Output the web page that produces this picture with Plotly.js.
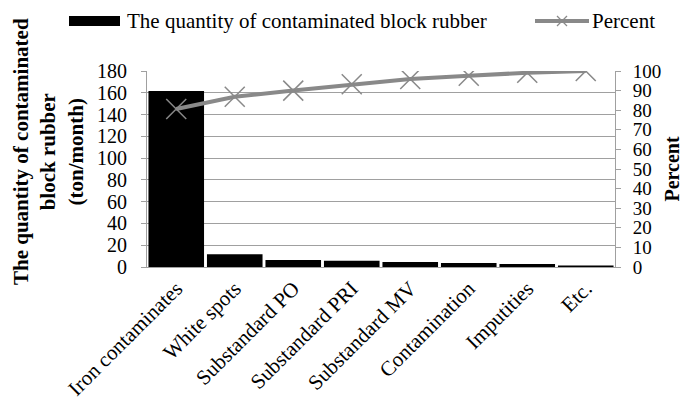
<!DOCTYPE html>
<html>
<head>
<meta charset="utf-8">
<script src="https://cdn.plot.ly/plotly-3.0.1.min.js"></script>
<style>html,body{margin:0;padding:0;background:#fff;}#chart{width:694px;height:401px;}</style>
</head>
<body>
<div id="chart"></div>
<script>
const categories = ["Iron contaminates", "White spots", "Substandard PO", "Substandard PRI", "Substandard MV", "Contamination", "Imputities", "Etc."];
const quantity = [161.6, 11.6, 6.4, 5.8, 4.6, 3.7, 2.8, 1.3];
const percent = [80.6, 86.9, 90.0, 93.2, 95.9, 97.6, 99.1, 100];
const seriesNames = ["The quantity of contaminated block rubber", "Percent"];
const yTitle = "<b>The quantity of contaminated<br>block rubber<br>(ton/month)</b>";
const y2Title = "<b>Percent</b>";

const FONT = "Liberation Serif, Times New Roman, serif";
const AXC = "#a0a0a0";
const LINEC = "#898989";
const CLEAR = "rgba(0,0,0,0)";

const data = [
  {
    type: "bar", x: categories, y: quantity,
    name: seriesNames[0],
    marker: {color: "#000000"}
  },
  {
    type: "scatter", mode: "lines+markers", x: categories, y: percent, yaxis: "y2",
    name: seriesNames[1],
    line: {color: LINEC, width: 4},
    marker: {symbol: "x-thin-open", size: 20, color: LINEC, line: {color: LINEC, width: 1.5}}
  },
  {type: "scatter", x: [], y: [], yaxis: "y3", showlegend: false, hoverinfo: "skip"},
  {type: "scatter", x: [], y: [], yaxis: "y4", showlegend: false, hoverinfo: "skip"}
];

const LY = 50;
const pix = {xref: "paper", yref: "paper", xsizemode: "pixel", ysizemode: "pixel", xanchor: 0, yanchor: 1};
const shapes = [
  Object.assign({type: "rect", x0: -78, x1: -27, y0: LY - 5, y1: LY + 5, fillcolor: "#000", line: {width: 0}}, pix),
  Object.assign({type: "line", x0: 388, x1: 442, y0: LY, y1: LY, line: {color: LINEC, width: 4}}, pix),
  Object.assign({type: "line", x0: 410, x1: 420, y0: LY - 5, y1: LY + 5, line: {color: LINEC, width: 1.2}}, pix),
  Object.assign({type: "line", x0: 410, x1: 420, y0: LY + 5, y1: LY - 5, line: {color: LINEC, width: 1.2}}, pix)
];
const annotations = [
  {text: seriesNames[0], xref: "paper", yref: "paper", x: 0, y: 1, xshift: -22, yshift: LY,
   xanchor: "left", yanchor: "middle", showarrow: false, font: {family: FONT, size: 21}},
  {text: seriesNames[1], xref: "paper", yref: "paper", x: 0, y: 1, xshift: 443, yshift: LY,
   xanchor: "left", yanchor: "middle", showarrow: false, font: {family: FONT, size: 21}},
  {text: yTitle, xref: "paper", yref: "paper", x: 0, y: 0.5, xshift: -99, yshift: 17,
   xanchor: "center", yanchor: "middle", textangle: -90, showarrow: false,
   font: {family: FONT, size: 21}}
];

const layout = {
  width: 694, height: 401,
  margin: {l: 147, r: 79, t: 71, b: 134},
  paper_bgcolor: "#fff", plot_bgcolor: "#fff",
  font: {family: FONT, size: 20, color: "#000"},
  bargap: 0.05,
  showlegend: false,
  shapes: shapes,
  annotations: annotations,
  xaxis: {
    type: "category", range: [-0.5, 7.5], tickangle: -45,
    tickfont: {family: FONT, size: 21},
    showline: true, linecolor: AXC, linewidth: 1, ticks: "", showgrid: false
  },
  yaxis: {
    range: [0, 180], dtick: 20, tick0: 0,
    showline: true, linecolor: AXC, linewidth: 1,
    ticks: "outside", ticklen: 15, tickcolor: CLEAR,
    showgrid: true, gridcolor: AXC, gridwidth: 1, zeroline: false,
    tickfont: {family: FONT, size: 20}
  },
  yaxis2: {
    overlaying: "y", side: "right", range: [0, 100], dtick: 10, tick0: 0,
    showline: true, linecolor: AXC, linewidth: 1,
    ticks: "outside", ticklen: 13, tickcolor: CLEAR,
    showgrid: false, zeroline: false,
    tickfont: {family: FONT, size: 19},
    title: {text: y2Title, font: {family: FONT, size: 20}, standoff: 4}
  },
  yaxis3: {
    overlaying: "y", side: "left", range: [0, 180], dtick: 20, tick0: 0,
    ticks: "outside", ticklen: 5, tickcolor: AXC, showticklabels: false,
    showgrid: false, showline: false, zeroline: false
  },
  yaxis4: {
    overlaying: "y", side: "right", range: [0, 100], dtick: 10, tick0: 0,
    ticks: "outside", ticklen: 5, tickcolor: AXC, showticklabels: false,
    showgrid: false, showline: false, zeroline: false
  }
};

Plotly.newPlot("chart", data, layout, {displayModeBar: false, staticPlot: true});
</script>
</body>
</html>
